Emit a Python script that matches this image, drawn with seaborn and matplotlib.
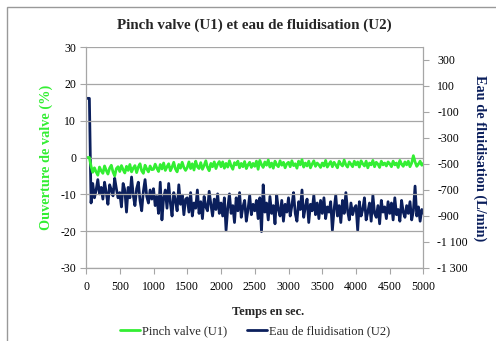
import matplotlib
matplotlib.use("Agg")
import matplotlib.pyplot as plt
from matplotlib.patches import Rectangle
from matplotlib.ticker import FuncFormatter
import numpy as np
import pandas as pd
import seaborn as sns

# Sampling period of the logger (s)
step_s = 25

# Pinch valve opening (%), left axis
pinch_valve = [
    0, 0, 0,
    -2.4, -4.0, -2.8, -3.9, -4.8, -2.6, -3.6, -4.3, -2.3, -3.5, -4.5, -2.9, -2.1, -3.9, -5.0, -3.0, -2.5,
    -3.8, -2.2, -3.3, -4.2, -2.4, -3.5, -1.9, -3.9, -2.9, -2.2, -4.1, -2.6, -1.7, -3.6, -4.3, -2.1, -3.1, -3.9, -2.3, -3.3,
    -3.2, -1.8, -2.9, -3.8, -1.9, -3.1, -1.5, -3.5, -2.5, -1.7, -3.6, -2.6, -1.3, -3.1, -3.9, -1.9, -2.9, -1.3, -2.7, -3.5,
    -2.7, -1.2, -3.0, -1.7, -3.4, -1.0, -2.5, -3.0, -1.4, -3.2, -2.2, -0.9, -2.7, -3.6, -1.6, -2.5, -1.2, -3.0, -1.8, -1.1,
    -2.5, -1.2, -2.9, -1.6, -2.6, -0.9, -2.3, -3.2, -1.4, -2.0, -1.0, -2.8, -1.6, -2.5, -1.1, -3.0, -2.0, -1.3, -2.7, -1.6,
    -2.4, -1.0, -3.2, -0.8, -1.9, -2.7, -1.2, -2.1, -0.7, -2.6, -1.5, -2.9, -1.0, -2.0, -2.5, -0.9, -2.1, -1.3, -2.8, -1.7,
    -1.3, -2.5, -0.9, -2.2, -1.7, -2.9, -1.0, -2.0, -0.6, -2.6, -1.5, -2.3, -1.0, -2.8, -1.8, -0.9, -2.4, -1.5, -2.0, -2.7,
    -1.5, -2.3, -0.8, -2.6, -1.8, -1.1, -2.5, -1.3, -2.0, -2.8, -1.0, -1.8, -2.3, -0.7, -2.0, -2.6, -1.2, -1.8, -2.5, -1.0,
    -2.0, -1.2, -2.6, -0.9, -1.7, -2.3, -1.0, -2.8, -1.5, -2.0, -0.8, -2.5, -1.3, -1.8, -2.7, -1.0, -2.0, -1.5, -2.3, -1.2,
    -1.7, -2.5, -1.0, -2.0, -1.5, -2.7, -0.8, -1.8, -2.4, -1.2, -2.0, -1.0, -2.5, -1.5, 0.5, -1.2, -2.4, -1.8, -1.0, -2.1, -1.6,
]

# Fluidisation water flow (L/min), right axis
fluidisation = [
    5, 5, 5,
    -800, -650, -760, -700, -620, -730, -680, -770, -640, -720, -810, -660, -700, -745, -610, -690, -760,
    -720, -830, -650, -700, -870, -680, -760, -600, -740, -820, -690, -640, -780, -860, -710, -620, -750, -800, -700, -770,
    -690, -820, -750, -880, -640, -930, -760, -700, -840, -650, -800, -900, -720, -780, -860, -660, -810, -740, -890, -770,
    -760, -870, -720, -900, -800, -840, -700, -880, -790, -920, -750, -830, -860, -710, -810, -900, -770, -850, -730, -880,
    -800, -900, -760, -1010, -840, -730, -880, -820, -950, -760, -860, -720, -910, -830, -780, -940, -850, -740, -890, -810,
    -860, -780, -920, -760, -1020, -660, -870, -800, -930, -750, -880, -820, -960, -740, -850, -900, -780, -940, -810, -870,
    -760, -900, -820, -720, -880, -940, -790, -850, -700, -910, -830, -770, -950, -810, -860, -740, -890, -800, -920, -780,
    -880, -760, -920, -830, -870, -790, -1010, -850, -740, -900, -820, -950, -780, -880, -720, -860, -930, -800, -890, -840,
    -820, -1010, -790, -900, -850, -760, -930, -870, -800, -940, -740, -880, -910, -820, -960, -780, -870, -830, -920, -790,
    -880, -800, -930, -760, -890, -850, -940, -780, -870, -910, -820, -880, -790, -930, -860, -670, -900, -830, -940, -850, -880,
]

x_ticks = list(range(0, 5001, 500))
left_ticks = list(range(-30, 31, 10))
right_ticks = list(range(-1300, 301, 200))

time_s = np.arange(len(pinch_valve)) * step_s
df = pd.DataFrame({"t": time_s, "u1": pinch_valve, "u2": fluidisation})

GREEN = "#33ee33"
NAVY = "#0b1f5c"
GRID = "#a6a6a6"
SERIF = ["Liberation Serif", "DejaVu Serif"]

sns.set_theme(style="white")
plt.rcParams["font.family"] = SERIF
plt.rcParams["axes.unicode_minus"] = False

fig = plt.figure(figsize=(4.96, 3.41), dpi=100)
ax = fig.add_axes([86 / 496, 1 - 268 / 341, (423.5 - 86) / 496, (268 - 47) / 341])
ax2 = ax.twinx()

sns.lineplot(data=df, x="t", y="u2", ax=ax2, color=NAVY, linewidth=2.0, label="Eau de fluidisation (U2)", legend=False)
sns.lineplot(data=df, x="t", y="u1", ax=ax, color=GREEN, linewidth=2.0, label="Pinch valve (U1)", legend=False)
# green series drawn above the navy one
ax.set_zorder(ax2.get_zorder() + 1)
ax.patch.set_visible(False)

ax.set_xlim(0, 5000)
ax.set_xticks(x_ticks)
ax.set_ylim(-30, 30)
ax.set_yticks(left_ticks)
ax2.set_ylim(-1300, 400)
ax2.set_yticks(right_ticks)
ax2.yaxis.set_major_formatter(FuncFormatter(lambda v, p: f"{int(v):,}".replace(",", " ")))

ax.yaxis.grid(True, color=GRID, linewidth=0.9)
ax.xaxis.grid(False)
ax2.grid(False)

for a in (ax, ax2):
    for s in a.spines.values():
        s.set_visible(False)
    a.set_xlabel("")
    a.set_ylabel("")
ax.spines["left"].set_visible(True)
ax.spines["bottom"].set_visible(True)
ax2.spines["right"].set_visible(True)
for s in (ax.spines["left"], ax.spines["bottom"], ax2.spines["right"]):
    s.set_color(GRID)
    s.set_linewidth(0.9)

ax.tick_params(axis="both", which="major", direction="out", length=4, width=0.8,
               color=GRID, labelsize=8.5, labelcolor="black", pad=3,
               bottom=True, left=True)
ax.tick_params(axis="x", pad=5)
ax2.tick_params(axis="y", direction="out", length=4, width=0.8, color=GRID,
                labelsize=8.5, labelcolor="black", pad=6, right=True)

fig.text(254 / 496, 1 - 25 / 341, "Pinch valve (U1) et eau de fluidisation (U2)",
         ha="center", va="center", fontsize=10.8, fontweight="bold")
fig.text(46 / 496, 1 - 157 / 341, "Ouverture de valve (%)", rotation=90,
         ha="center", va="center", fontsize=10.3, fontweight="bold", color=GREEN)
fig.text(480 / 496, 1 - 158 / 341, "Eau de fluidisation (L/min)", rotation=270,
         ha="center", va="center", fontsize=10.3, fontweight="bold", color=NAVY)
fig.text(268 / 496, 1 - 312 / 341, "Temps en sec.", ha="center", va="center",
         fontsize=9, fontweight="bold")

h1, l1 = ax.get_legend_handles_labels()
h2, l2 = ax2.get_legend_handles_labels()
fig.legend(h1 + h2, l1 + l2, loc="center", bbox_to_anchor=(255 / 496, 1 - 331 / 341),
           ncol=2, frameon=False, fontsize=9, handlelength=1.6, handletextpad=0.15,
           columnspacing=1.6, borderpad=0)

fig.patches.append(Rectangle((7 / 496, -0.2), 1.2, 1 - 7 / 341 + 0.2, transform=fig.transFigure,
                             fill=False, edgecolor="#999999", linewidth=1.0, clip_on=False))

fig.savefig("out.png", dpi=100, facecolor="white")
